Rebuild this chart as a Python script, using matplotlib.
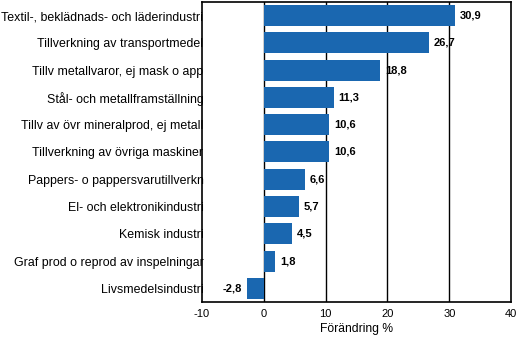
import matplotlib
matplotlib.use("Agg")
import matplotlib.pyplot as plt

categories = [
    "Textil-, beklädnads- och läderindustri",
    "Tillverkning av transportmedel",
    "Tillv metallvaror, ej mask o app",
    "Stål- och metallframställning",
    "Tillv av övr mineralprod, ej metall",
    "Tillverkning av övriga maskiner",
    "Pappers- o pappersvarutillverkn",
    "El- och elektronikindustri",
    "Kemisk industri",
    "Graf prod o reprod av inspelningar",
    "Livsmedelsindustri",
]
values = [30.9, 26.7, 18.8, 11.3, 10.6, 10.6, 6.6, 5.7, 4.5, 1.8, -2.8]
xticks = [-10, 0, 10, 20, 30, 40]
xlabel = "Förändring %"

plt.rcParams['font.family'] = ['Liberation Sans', 'DejaVu Sans']

fig = plt.figure(figsize=(5.17, 3.37), dpi=100)
ax = fig.add_axes([0.3907, 0.104, 0.598, 0.890])

n = len(categories)
ypos = list(range(n))[::-1]
ax.barh(ypos, values, height=0.77, color="#1a67b0", zorder=3)
ax.set_ylim(-0.5, n - 0.5)
ax.set_xlim(-10, 40)
ax.set_xticks(xticks)
ax.set_xticklabels([str(t) for t in xticks], fontsize=8)
ax.set_yticks(ypos)
ax.set_yticklabels(categories, fontsize=8.9)
ax.tick_params(axis='both', length=0)
ax.tick_params(axis='y', pad=-1)
ax.tick_params(axis='x', pad=5)
for t in [0, 10, 20, 30]:
    ax.axvline(t, color="black", lw=1, zorder=2)
for s in ax.spines.values():
    s.set_linewidth(1.2)
ax.set_xlabel(xlabel, fontsize=8.7, labelpad=3)

for y, v in zip(ypos, values):
    txt = f"{v:.1f}".replace(".", ",")
    if v >= 0:
        ax.text(v + 0.8, y, txt, va="center", ha="left", fontsize=8, fontweight="bold", zorder=4)
    else:
        ax.text(v - 0.7, y, txt, va="center", ha="right", fontsize=8, fontweight="bold", zorder=4)

fig.savefig("out.png", dpi=100)
